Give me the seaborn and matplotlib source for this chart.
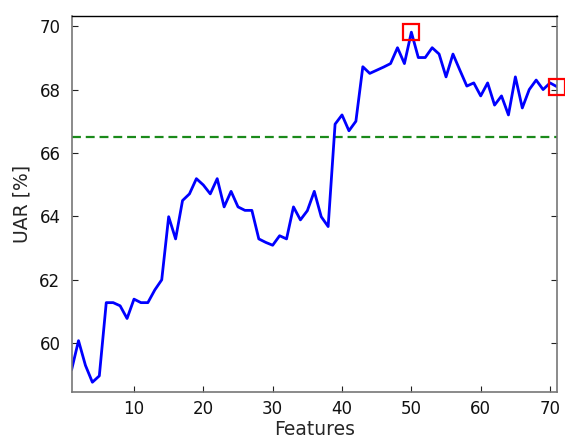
import numpy as np
import pandas as pd
import matplotlib
matplotlib.use("Agg")
import matplotlib.pyplot as plt
import seaborn as sns

features = list(range(1, 72))
uar = [59.16, 60.08, 59.3, 58.77, 58.97, 61.28, 61.28, 61.18, 60.78, 61.39,
       61.28, 61.28, 61.68, 62.0, 63.99, 63.29, 64.5, 64.71, 65.19, 64.99,
       64.71, 65.19, 64.3, 64.79, 64.3, 64.19, 64.19, 63.29, 63.18, 63.09,
       63.39, 63.29, 64.3, 63.89, 64.18, 64.79, 63.99, 63.68, 66.91, 67.2,
       66.7, 67.0, 68.72, 68.51, 68.61, 68.71, 68.82, 69.32, 68.82, 69.81,
       69.01, 69.01, 69.32, 69.12, 68.4, 69.12, 68.61, 68.11, 68.21, 67.8,
       68.21, 67.51, 67.8, 67.2, 68.4, 67.42, 68.0, 68.3, 68.0, 68.21, 68.09]
baseline = 66.5
marked_x = [50, 71]
marked_y = [69.81, 68.09]

x_ticks = [10, 20, 30, 40, 50, 60, 70]
y_ticks = [60, 62, 64, 66, 68, 70]

sns.set_style("white")
plt.rcParams['font.family'] = ['DejaVu Sans']

df = pd.DataFrame({"Features": features, "UAR": uar})

fig = plt.figure(figsize=(5.65, 4.41), dpi=100)
ax = fig.add_axes([0.1267, 0.111, 0.8591, 0.8527])

ax.axhline(baseline, color='#1a8a1a', lw=1.6, ls=(0, (4, 2.2)), zorder=1)
sns.lineplot(data=df, x="Features", y="UAR", ax=ax, color='#0000ff', lw=2.0, zorder=2)
ax.plot(marked_x, marked_y, ls='none', marker='s', markersize=11.5,
        markerfacecolor='none', markeredgecolor='#ff0000', markeredgewidth=1.6,
        clip_on=False, zorder=3)

ax.set_xlim(1, 71)
ax.set_ylim(58.46, 70.32)
ax.set_xticks(x_ticks)
ax.set_yticks(y_ticks)
ax.set_xlabel("Features", fontsize=13.5, labelpad=1)
ax.set_ylabel("UAR [%]", fontsize=13.5, labelpad=6)

ax.tick_params(axis='both', direction='in', length=4, width=0.8, colors='#222222',
               labelsize=12, labelcolor='#111111')
ax.tick_params(axis='y', right=True, left=True, pad=8)
ax.tick_params(axis='x', bottom=True, top=False, pad=6)

for side in ['left', 'right', 'bottom']:
    ax.spines[side].set_color('#777777')
    ax.spines[side].set_linewidth(1.2)
ax.spines['top'].set_color('#000000')
ax.spines['top'].set_linewidth(1.0)

fig.savefig("out.png", dpi=100)
